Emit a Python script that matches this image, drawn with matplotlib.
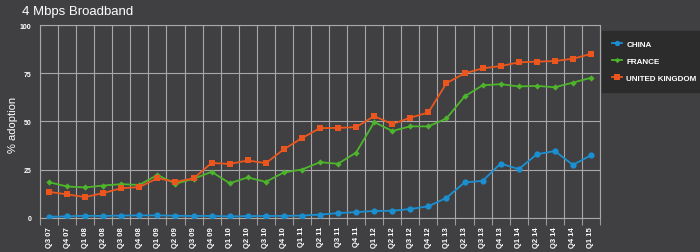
import matplotlib
matplotlib.use("Agg")
import matplotlib.pyplot as plt
import numpy as np

quarters = ["Q3 07", "Q4 07", "Q1 08", "Q2 08", "Q3 08", "Q4 08", "Q1 09", "Q2 09",
            "Q3 09", "Q4 09", "Q1 10", "Q2 10", "Q3 10", "Q4 10", "Q1 11", "Q2 11",
            "Q3 11", "Q4 11", "Q1 12", "Q2 12", "Q3 12", "Q4 12", "Q1 13", "Q2 13",
            "Q3 13", "Q4 13", "Q1 14", "Q2 14", "Q3 14", "Q4 14", "Q1 15"]

china = [0.5, 0.7, 1.0, 0.9, 1.1, 1.2, 1.2, 1.0, 0.9, 0.9, 0.7, 0.8, 0.9, 0.9, 1.1, 1.6,
         2.4, 2.9, 3.5, 3.6, 4.5, 5.9, 10.3, 18.3, 19.1, 28.1, 25.2, 32.9, 34.6, 27.4, 32.4]
france = [18.4, 16.2, 15.7, 16.7, 17.4, 17.0, 22.2, 17.6, 20.2, 23.8, 17.9, 20.9, 18.6, 23.5,
          25.0, 28.8, 28.0, 33.8, 49.6, 45.0, 47.4, 47.4, 51.5, 62.9, 68.7, 69.3, 68.1, 68.4,
          67.7, 70.1, 72.6]
uk = [13.4, 12.1, 10.7, 12.8, 15.3, 15.9, 20.5, 18.6, 20.4, 28.4, 27.9, 29.7, 28.3, 35.5,
      41.3, 46.5, 46.6, 47.0, 52.7, 48.6, 51.9, 54.6, 69.8, 74.9, 77.5, 78.7, 80.6, 81.0,
      81.3, 82.5, 85.0]
series_names = ["CHINA", "FRANCE", "UNITED KINGDOM"]
yticks = [0, 25, 50, 75, 100]

bg = "#404042"
colors = ["#1b8fd0", "#4db52b", "#ea561d"]
markers = ["o", "D", "s"]
msizes = [4.5, 3.2, 5.0]

plt.rcParams["font.family"] = ["Liberation Sans", "DejaVu Sans"]
fig = plt.figure(figsize=(7, 2.53), dpi=100, facecolor=bg)
ax = fig.add_axes([40 / 700, 1 - 218.7 / 253, 560 / 700, (218.7 - 26) / 253], facecolor=bg)

x = np.arange(len(quarters))
for vals, name, c, m, ms in zip([china, france, uk], series_names, colors, markers, msizes):
    ax.plot(x, vals, color=c, marker=m, markersize=ms, linewidth=1.3, label=name,
            markeredgewidth=0, zorder=3)

ax.set_xlim(-0.5, len(quarters) - 0.5)
ax.set_ylim(0, 100)
ax.set_yticks(yticks)
ax.set_yticklabels([str(v) for v in yticks], fontsize=5, color="white", fontweight="bold")
ax.set_xticks(x)
ax.set_xticklabels(quarters, rotation=90, fontsize=5.5, color="white", fontweight="bold")
ax.set_xticks(np.arange(-0.5, len(quarters), 1), minor=True)
ax.tick_params(axis="x", which="major", length=0, pad=6)
ax.tick_params(axis="x", which="minor", length=5, color="#9a9a9a", width=0.8)
ax.tick_params(axis="y", length=0, pad=6)

ax.grid(True, which="minor", axis="x", color="#a8a8a8", linewidth=0.8)
ax.grid(True, which="major", axis="y", color="#a8a8a8", linewidth=0.8)
ax.set_axisbelow(True)
for sp in ax.spines.values():
    sp.set_color("#a8a8a8")
    sp.set_linewidth(0.8)

fig.text(13 / 700, 1 - 125 / 253, "% adoption", color="white", fontsize=8,
         rotation=90, ha="center", va="center")
fig.text(22 / 700, 1 - 12 / 253, "4 Mbps Broadband", color="white", fontsize=9.5,
         ha="left", va="center")

leg = fig.legend(loc="upper left", bbox_to_anchor=(602 / 700, 1 - 32 / 253),
                 frameon=True, prop={"size": 5.8, "weight": "bold"}, labelcolor="white",
                 handlelength=1.3, borderpad=1.2, labelspacing=1.15, handletextpad=0.5,
                 markerscale=0.85, fancybox=False, borderaxespad=0)
leg.get_frame().set_facecolor("#2c2c2c")
leg.get_frame().set_edgecolor("#2c2c2c")
leg.get_frame().set_alpha(1)

fig.savefig("out.png", dpi=100, facecolor=bg)
